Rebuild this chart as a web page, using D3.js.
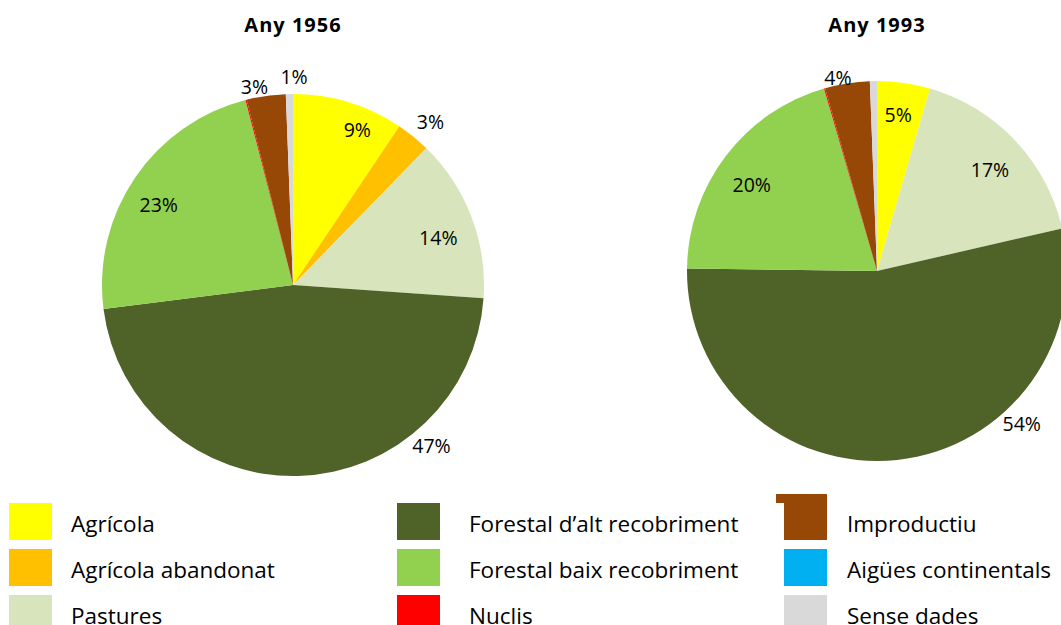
<!DOCTYPE html>
<html>
<head>
<meta charset="utf-8">
<script src="https://cdn.jsdelivr.net/npm/d3@7"></script>
<style>
  html, body { margin: 0; padding: 0; background: #fff; }
  svg { display: block; font-family: "Open Sans", Lato, sans-serif; }
</style>
</head>
<body>
<svg id="chart" width="1061" height="625"></svg>
<script>
// Land-use categories (shared by both years)
const categories = [
  "Agrícola", "Agrícola abandonat", "Pastures",
  "Forestal d’alt recobriment", "Forestal baix recobriment", "Nuclis",
  "Improductiu", "Aigües continentals", "Sense dades"
];
const colors = [
  "#ffff00", "#ffc000", "#d8e4bc",
  "#4f6228", "#92d050", "#ff0000",
  "#974706", "#00b0f0", "#d9d9d9"
];

// Share of surface (%) per category
const values1956 = [9.4, 2.9, 13.8, 46.9, 23.0, 0.1, 3.3, 0.0, 0.6];
const values1993 = [4.5, 0.0, 16.9, 53.8, 20.3, 0.1, 3.8, 0.0, 0.6];

const titles = ["Any 1956", "Any 1993"];

// Label placement per slice: radius as a fraction of the pie radius,
// and the angle (degrees clockwise from 12 o'clock) of the best-fit position.
const labelLayout1956 = [
  { r: 0.88, a: 22.5 }, { r: 1.12, a: 40 }, { r: 0.80, a: 72 },
  { r: 1.11, a: 139.2 }, { r: 0.82, a: 301 }, null,
  { r: 1.06, a: 349 }, null, { r: 1.09, a: 0.3 }
];
const labelLayout1993 = [
  { r: 0.83, a: 7.7 }, null, { r: 0.80, a: 48 },
  { r: 1.105, a: 136.4 }, { r: 0.80, a: 304.5 }, null,
  { r: 1.04, a: 348.6 }, null, null
];

const svg = d3.select("#chart");

const pies = [
  { title: titles[0], values: values1956, layout: labelLayout1956, cx: 293, cy: 285, r: 191 },
  { title: titles[1], values: values1993, layout: labelLayout1993, cx: 877, cy: 271, r: 190 }
];

const pieGen = d3.pie().sort(null).value(d => d);

pies.forEach(p => {
  const g = svg.append("g").attr("transform", `translate(${p.cx},${p.cy})`);
  const arcs = pieGen(p.values);
  const arcGen = d3.arc().innerRadius(0).outerRadius(p.r);

  g.selectAll("path.slice")
    .data(arcs)
    .join("path")
    .attr("class", "slice")
    .attr("d", arcGen)
    .attr("fill", (d, i) => colors[i]);

  arcs.forEach((d, i) => {
    const lay = p.layout[i];
    if (!lay || d.value <= 0) return;
    const ang = (lay.a != null ? lay.a : ((d.startAngle + d.endAngle) / 2) * 180 / Math.PI) * Math.PI / 180;
    const rr = lay.r * p.r;
    g.append("text")
      .attr("x", Math.sin(ang) * rr)
      .attr("y", -Math.cos(ang) * rr)
      .attr("text-anchor", "middle")
      .attr("dominant-baseline", "central")
      .attr("font-size", 19.5)
      .attr("fill", "#000")
      .text(d3.format(".0f")(d.value) + "%");
  });

  svg.append("text")
    .attr("x", p.cx)
    .attr("y", 32)
    .attr("text-anchor", "middle")
    .attr("font-size", 20)
    .attr("font-weight", "bold")
    .attr("letter-spacing", 1)
    .text(p.title);
});

// Legend: three columns of three rows
const legendCols = [
  { sx: 9, tx: 71 },
  { sx: 397, tx: 469 },
  { sx: 784, tx: 847 }
];
const rowY = d3.scaleLinear().domain([0, 1]).range([503, 549]);

categories.forEach((name, i) => {
  const col = legendCols[Math.floor(i / 3)];
  const row = i % 3;
  const y = rowY(row);
  svg.append("rect")
    .attr("x", col.sx).attr("y", y)
    .attr("width", 43).attr("height", 37)
    .attr("fill", colors[i]);
  svg.append("text")
    .attr("x", col.tx).attr("y", y + 29)
    .attr("font-size", 22.5)
    .attr("fill", "#000")
    .text(name);
});

// Overlapping swatch edge next to "Improductiu"
svg.append("rect")
  .attr("x", 776).attr("y", 494)
  .attr("width", 51).attr("height", 9)
  .attr("fill", colors[6]);
svg.append("rect")
  .attr("x", 784).attr("y", 494)
  .attr("width", 43).attr("height", 12)
  .attr("fill", colors[6]);
</script>
</body>
</html>
